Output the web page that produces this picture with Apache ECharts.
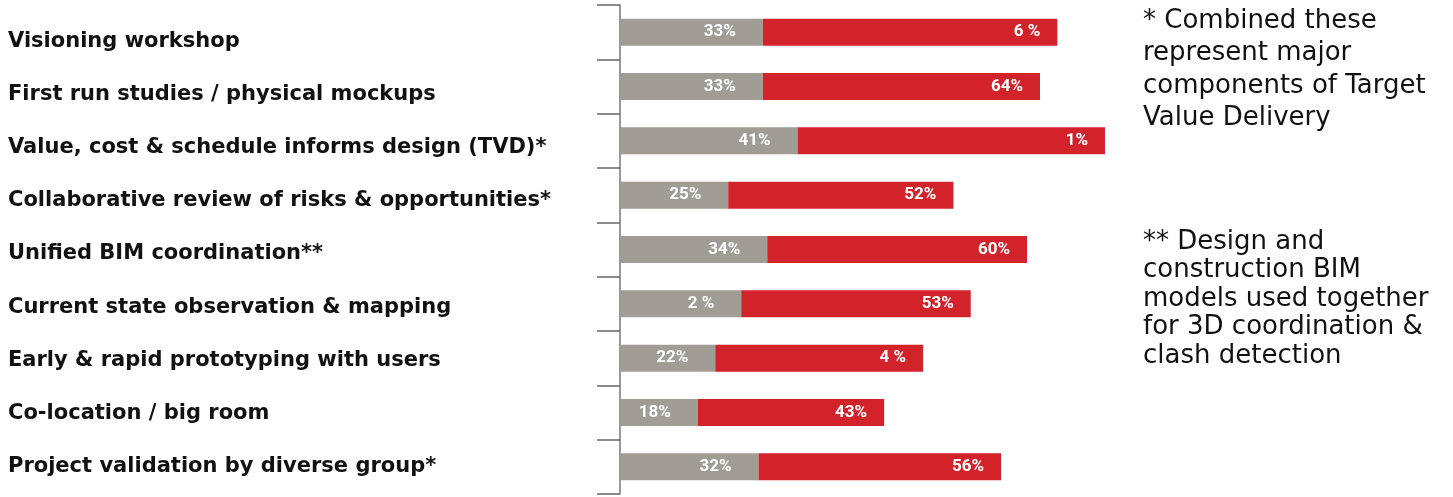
<!DOCTYPE html>
<html>
<head>
<meta charset="utf-8">
<script src="https://cdn.jsdelivr.net/npm/echarts@6/dist/echarts.min.js"></script>
<style>html,body{margin:0;padding:0;background:#fff}#c{width:1453px;height:497px}</style>
</head>
<body>
<div id="c"></div>
<script>
const categories = [
  "Visioning workshop",
  "First run studies / physical mockups",
  "Value, cost & schedule informs design (TVD)*",
  "Collaborative review of risks & opportunities*",
  "Unified BIM coordination**",
  "Current state observation & mapping",
  "Early & rapid prototyping with users",
  "Co-location / big room",
  "Project validation by diverse group*"
];
const greyValues = [33, 33, 41, 25, 34, 28, 22, 18, 32];
const redValues  = [68, 64, 71, 52, 60, 53, 48, 43, 56];
const greyLabels = ["33%", "33%", "41%", "25%", "34%", "2 %", "22%", "18%", "32%"];
const redLabels  = ["6 %", "64%", "1%", "52%", "60%", "53%", "4 %", "43%", "56%"];
const note1 = ["* Combined these", "represent major", "components of Target", "Value Delivery"];
const note2 = ["** Design and", "construction BIM", "models used together", "for 3D coordination &", "clash detection"];

const chart = echarts.init(document.getElementById('c'));
const barLabel = (arr, dist) => ({
  show: true, position: 'insideRight', distance: dist,
  color: '#fff', fontFamily: 'Roboto, sans-serif',
  fontWeight: 'bold', fontSize: 17,
  formatter: p => arr[p.dataIndex]
});
const noteStyle = {fill: '#111', fontFamily: 'DejaVu Sans', fontSize: 26};
const noteTexts = [];
note1.forEach((t, i) => noteTexts.push({type: 'text', left: 1143, top: 8 + i * 32.5,
  style: Object.assign({text: t}, noteStyle)}));
note2.forEach((t, i) => noteTexts.push({type: 'text', left: 1143, top: 229 + i * 28.5,
  style: Object.assign({text: t}, noteStyle)}));

chart.setOption({
  animation: false,
  grid: [
    {left: 620, top: 5, width: 649.5, height: 489},
    {left: 620, top: 14.5, width: 10, height: 479}
  ],
  xAxis: [
    {gridIndex: 0, type: 'value', min: 0, max: 150, show: false},
    {gridIndex: 1, type: 'value', min: 0, max: 1, show: false}
  ],
  yAxis: [
    {gridIndex: 0, type: 'category', data: categories, inverse: true,
     axisLine: {show: true, lineStyle: {color: '#777', width: 1.5}},
     axisTick: {show: true, length: 23, lineStyle: {color: '#666', width: 1.5}},
     axisLabel: {show: false}, splitLine: {show: false}},
    {gridIndex: 1, type: 'category', data: categories, inverse: true,
     axisLine: {show: false}, axisTick: {show: false},
     axisLabel: {show: true, align: 'left', margin: 612, color: '#111',
       fontFamily: 'DejaVu Sans', fontWeight: 'bold', fontSize: 21}}
  ],
  series: [
    {type: 'bar', stack: 's', xAxisIndex: 0, yAxisIndex: 0, data: greyValues, barWidth: 27,
     itemStyle: {color: '#A09D96'}, label: barLabel(greyLabels, 27)},
    {type: 'bar', stack: 's', xAxisIndex: 0, yAxisIndex: 0, data: redValues, barWidth: 27,
     itemStyle: {color: '#D2232B'}, label: barLabel(redLabels, 17)},
    {type: 'bar', xAxisIndex: 1, yAxisIndex: 1, data: [], silent: true}
  ],
  graphic: noteTexts
});
</script>
</body>
</html>
